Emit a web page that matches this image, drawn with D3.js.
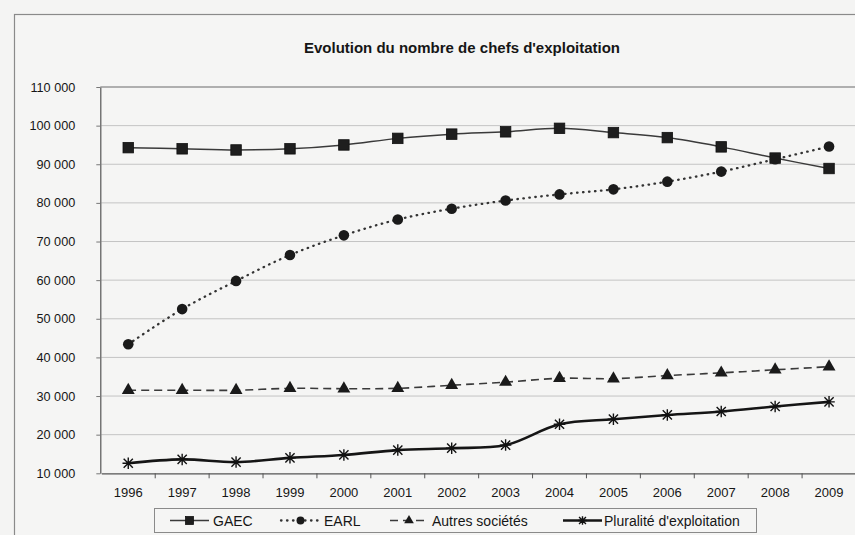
<!DOCTYPE html>
<html>
<head>
<meta charset="utf-8">
<script src="https://cdn.jsdelivr.net/npm/d3@7"></script>
<style>
  html, body { margin: 0; padding: 0; background: #f4f4f3; }
  svg { display: block; }
  text { font-family: "Liberation Sans", Arial, Helvetica, sans-serif; fill: #161616; }
</style>
</head>
<body>
<svg id="chart" width="855" height="535"></svg>
<script>
// Farm managers by legal form, 1996–2009
const years = ["1996","1997","1998","1999","2000","2001","2002","2003","2004","2005","2006","2007","2008","2009"];
const gaec = [94300, 94000, 93700, 94000, 95000, 96700, 97800, 98400, 99300, 98200, 96900, 94500, 91600, 88900];
const earl = [43400, 52500, 59800, 66500, 71600, 75700, 78500, 80600, 82200, 83500, 85500, 88100, 91300, 94600];
const autres = [31500, 31500, 31500, 32000, 31900, 32000, 32800, 33600, 34600, 34500, 35300, 36000, 36800, 37600];
const pluralite = [12600, 13600, 12900, 14000, 14750, 16000, 16500, 17300, 22700, 24000, 25100, 26000, 27300, 28500];
const seriesNames = ["GAEC", "EARL", "Autres sociétés", "Pluralité d'exploitation"];
const yTicks = [10000, 20000, 30000, 40000, 50000, 60000, 70000, 80000, 90000, 100000, 110000];
const title = "Evolution du nombre de chefs d'exploitation";

const svg = d3.select("#chart");
const fr = d3.formatLocale({ decimal: ",", thousands: " ", grouping: [3], currency: ["", " €"] });
const fmt = fr.format(",d");

const plot = { left: 101.3, right: 856, top: 87, bottom: 473.3 };

const x = d3.scaleBand().domain(years).range([plot.left, plot.right]).paddingInner(0).paddingOuter(0);
const y = d3.scaleLinear().domain([10000, 110000]).range([plot.bottom, plot.top]);
const cx = d => x(d) + x.bandwidth() / 2;

// outer chart frame
svg.append("rect")
  .attr("x", 14.5).attr("y", 14.5).attr("width", 900).attr("height", 600)
  .attr("fill", "#f5f5f4").attr("stroke", "#8a8a8a").attr("stroke-width", 1.2);

// title
svg.append("text")
  .attr("x", 462).attr("y", 52.5)
  .attr("text-anchor", "middle")
  .style("font-size", "15px").style("font-weight", "bold")
  .text(title);

// horizontal gridlines
svg.append("g").selectAll("line")
  .data(yTicks.slice(1, -1))
  .join("line")
  .attr("x1", plot.left).attr("x2", plot.right)
  .attr("y1", d => y(d)).attr("y2", d => y(d))
  .attr("stroke", "#c4c4c4").attr("stroke-width", 1);

// plot area border (top line)
svg.append("line")
  .attr("x1", plot.left - 1).attr("x2", plot.right)
  .attr("y1", y(110000)).attr("y2", y(110000))
  .attr("stroke", "#6a6a6a").attr("stroke-width", 1.2);

// y axis
const yAxis = d3.axisLeft(y).tickValues(yTicks).tickFormat(fmt).tickSize(4).tickPadding(21).tickSizeOuter(0);
const gy = svg.append("g").attr("transform", `translate(${plot.left - 1},0)`).call(yAxis);
gy.select(".domain").attr("stroke", "#555").attr("stroke-width", 1.2);
gy.selectAll(".tick line").attr("stroke", "#777");
gy.selectAll(".tick text").style("font-size", "12.7px").attr("fill", "#161616");

// x axis: labels centred in each band, ticks on band boundaries
const xAxis = d3.axisBottom(x).tickSize(0).tickPadding(14.5).tickSizeOuter(0);
const gx = svg.append("g").attr("transform", `translate(0,${plot.bottom})`).call(xAxis);
gx.select(".domain").attr("stroke", "#555").attr("stroke-width", 1.2);
gx.selectAll(".tick text").style("font-size", "13px").attr("fill", "#161616");
gx.selectAll("line.bound")
  .data(years.slice(1))
  .join("line")
  .attr("class", "bound")
  .attr("x1", d => x(d)).attr("x2", d => x(d))
  .attr("y1", 0).attr("y2", 5)
  .attr("stroke", "#555");

// marker shapes
const starPath = s => `M${-s},${-s}L${s},${s}M${-s},${s}L${s},${-s}M0,${-s * 1.25}L0,${s * 1.25}M${-s * 1.25},0L${s * 1.25},0`;
function drawMarker(g, type, px, py, scale) {
  if (type === "square") {
    const s = 10.5 * scale;
    g.append("rect").attr("x", px - s / 2).attr("y", py - s / 2).attr("width", s).attr("height", s)
      .attr("fill", "#1e1e1e").attr("stroke", "#111").attr("stroke-width", 0.8);
  } else if (type === "circle") {
    g.append("circle").attr("cx", px).attr("cy", py).attr("r", 5.3 * scale).attr("fill", "#1a1a1a");
  } else if (type === "triangle") {
    g.append("path").attr("transform", `translate(${px},${py})`)
      .attr("d", d3.symbol(d3.symbolTriangle, 72 * scale * scale)()).attr("fill", "#1a1a1a");
  } else if (type === "star") {
    g.append("path").attr("transform", `translate(${px},${py})`)
      .attr("d", starPath(4.6 * scale)).attr("stroke", "#111").attr("stroke-width", 1.4).attr("fill", "none");
  }
}

const series = [
  { name: seriesNames[0], values: gaec, marker: "square", stroke: "#3a3a3a", width: 1.5, dash: null, cap: "butt" },
  { name: seriesNames[1], values: earl, marker: "circle", stroke: "#333", width: 2.3, dash: "0.5,5.5", cap: "round" },
  { name: seriesNames[2], values: autres, marker: "triangle", stroke: "#3a3a3a", width: 1.6, dash: "8,5", cap: "butt" },
  { name: seriesNames[3], values: pluralite, marker: "star", stroke: "#151515", width: 2.6, dash: null, cap: "butt" }
];

const line = d3.line().x((d, i) => cx(years[i])).y(d => y(d)).curve(d3.curveCatmullRom.alpha(0.5));

const gSeries = svg.append("g");
series.forEach(s => {
  gSeries.append("path")
    .datum(s.values)
    .attr("d", line)
    .attr("fill", "none")
    .attr("stroke", s.stroke)
    .attr("stroke-width", s.width)
    .attr("stroke-linecap", s.cap)
    .attr("stroke-dasharray", s.dash);
});
series.forEach(s => {
  const gm = gSeries.append("g");
  s.values.forEach((v, i) => drawMarker(gm, s.marker, cx(years[i]), y(v), 1));
});

// legend
const legend = svg.append("g");
legend.append("rect")
  .attr("x", 154.5).attr("y", 508.5).attr("width", 602).attr("height", 24)
  .attr("fill", "#f5f5f4").attr("stroke", "#8a8a8a").attr("stroke-width", 1);
const legendItems = [
  { s: series[0], x0: 170, x1: 209, tx: 213 },
  { s: series[1], x0: 281, x1: 320, tx: 324 },
  { s: series[2], x0: 390, x1: 428, tx: 432 },
  { s: series[3], x0: 563, x1: 602, tx: 604 }
];
const ly = 520.5;
legendItems.forEach(it => {
  legend.append("line")
    .attr("x1", it.x0).attr("x2", it.x1).attr("y1", ly).attr("y2", ly)
    .attr("stroke", it.s.stroke).attr("stroke-width", it.s.width)
    .attr("stroke-linecap", it.s.cap)
    .attr("stroke-dasharray", it.s.dash);
  drawMarker(legend, it.s.marker, (it.x0 + it.x1) / 2, ly, 0.75);
  legend.append("text")
    .attr("x", it.tx).attr("y", ly + 5.5)
    .style("font-size", "14px")
    .text(it.s.name);
});
</script>
</body>
</html>
